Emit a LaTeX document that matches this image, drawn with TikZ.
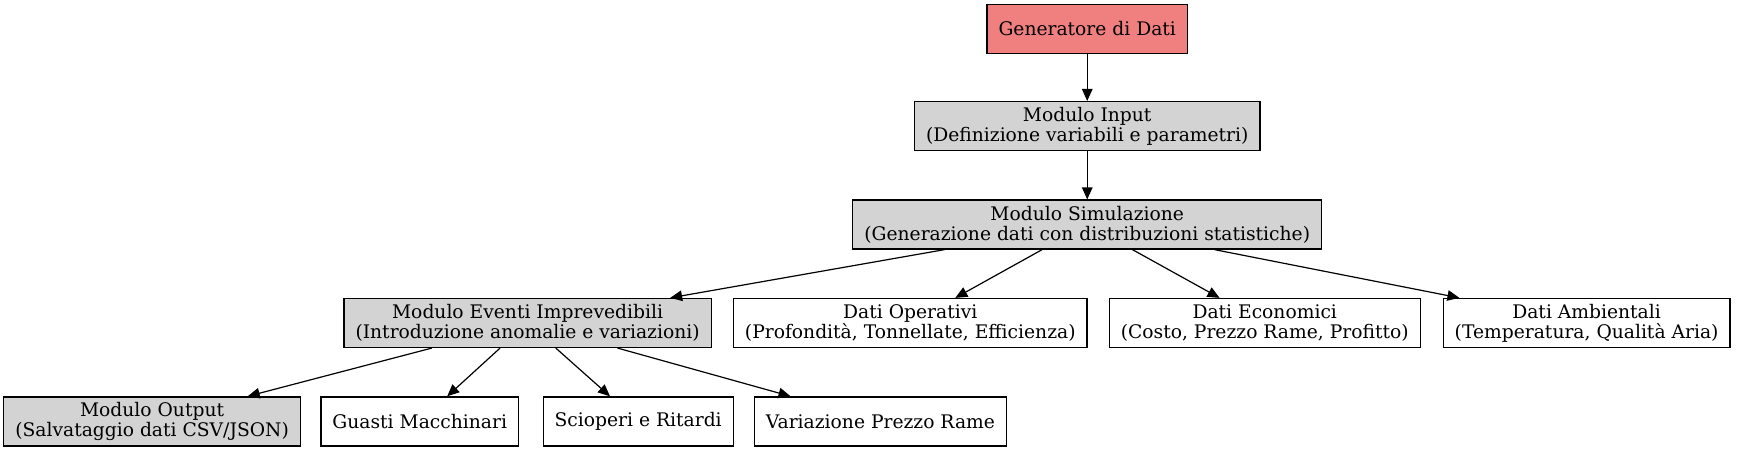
\documentclass[tikz,border=0pt]{standalone}
\usepackage{fontspec}
\setmainfont{DejaVu Serif}
\usetikzlibrary{arrows.meta}
\definecolor{lightcoral}{HTML}{F08080}
\definecolor{lightgray}{HTML}{D3D3D3}
\tikzset{
  blk/.style={draw=black, line width=1.2pt, fill=white, minimum height=49pt,
    inner xsep=11.5pt, inner ysep=3pt, align=center,
    font=\fontsize{18.7}{19.8}\selectfont},
  modulo/.style={blk, fill=lightgray},
  freccia/.style={line width=1.2pt, -{Triangle[length=12pt,width=10.5pt]}}
}
\begin{document}
\begin{tikzpicture}[x=1.106pt,y=-1.106pt]
    \useasboundingbox (0,0) rectangle (1572.3,409.6);
    \node[blk, fill=lightcoral] (gen) at (983,26.2) {Generatore di Dati};
    \node[modulo] (input) at (983,114) {Modulo Input\\(Definizione variabili e parametri)};
    \node[modulo] (sim) at (983,203) {Modulo Simulazione\\(Generazione dati con distribuzioni statistiche)};
    \node[modulo] (eventi) at (477,292) {Modulo Eventi Imprevedibili\\(Introduzione anomalie e variazioni)};
    \node[blk] (oper) at (823,292) {Dati Operativi\\(Profondità, Tonnellate, Efficienza)};
    \node[blk] (econ) at (1143.5,292) {Dati Economici\\(Costo, Prezzo Rame, Profitto)};
    \node[blk] (amb) at (1434.5,292) {Dati Ambientali\\(Temperatura, Qualità Aria)};
    \node[modulo] (output) at (137.5,381) {Modulo Output\\(Salvataggio dati CSV/JSON)};
    \node[blk] (guasti) at (379.5,381) {Guasti Macchinari};
    \node[blk] (sciop) at (577,381) {Scioperi e Ritardi};
    \node[blk] (prezzo) at (796,381) {Variazione Prezzo Rame};
    \draw[freccia] (gen)--(input);
    \draw[freccia] (input)--(sim);
    \draw[freccia] (sim)--(eventi);
    \draw[freccia] (sim)--(oper);
    \draw[freccia] (sim)--(econ);
    \draw[freccia] (sim)--(amb);
    \draw[freccia] (eventi)--(output);
    \draw[freccia] (eventi)--(guasti);
    \draw[freccia] (eventi)--(sciop);
    \draw[freccia] (eventi)--(prezzo);
\end{tikzpicture}
\end{document}
